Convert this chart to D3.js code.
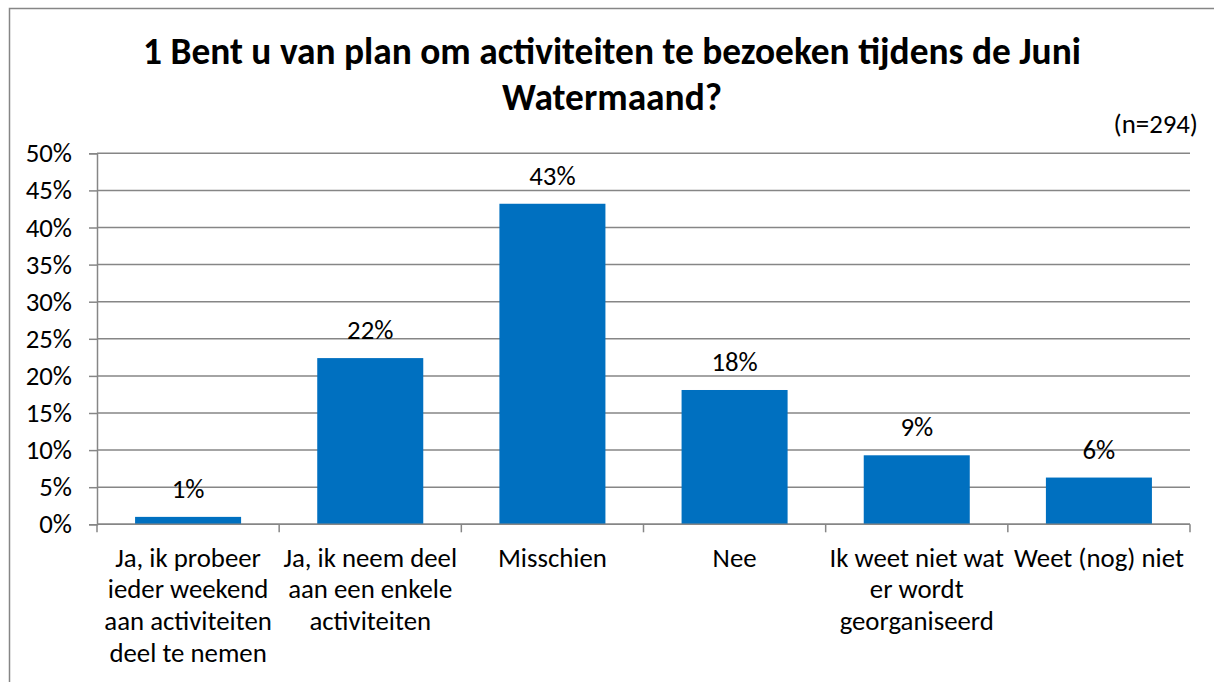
<!DOCTYPE html>
<html>
<head>
<meta charset="utf-8">
<script src="https://cdn.jsdelivr.net/npm/d3@7"></script>
<style>
    body { margin: 0; background: #fff; }
    svg { display: block; font-family: Carlito, Calibri, Lato, sans-serif; }
</style>
</head>
<body>
<div id="chart"></div>
<script>
const categories = [
    "Ja, ik probeer ieder weekend aan activiteiten deel te nemen",
    "Ja, ik neem deel aan een enkele activiteiten",
    "Misschien",
    "Nee",
    "Ik weet niet wat er wordt georganiseerd",
    "Weet (nog) niet"
];
const categoryLines = [
    ["Ja, ik probeer", "ieder weekend", "aan activiteiten", "deel te nemen"],
    ["Ja, ik neem deel", "aan een enkele", "activiteiten"],
    ["Misschien"],
    ["Nee"],
    ["Ik weet niet wat", "er wordt", "georganiseerd"],
    ["Weet (nog) niet"]
];
const values = [1.0, 22.4, 43.2, 18.1, 9.3, 6.3];
const yTicks = [0, 5, 10, 15, 20, 25, 30, 35, 40, 45, 50];
const titleLines = ["1 Bent u van plan om activiteiten te bezoeken tijdens de Juni", "Watermaand?"];
const note = "(n=294)";

function createVis() {
    const W = 1214, H = 682;
    const plot = { left: 97, right: 1190, top: 153.3, bottom: 524.3 };
    const gridColor = "#868686";
    const labelSize = "26.8px";

    const svg = d3.select("#chart")
        .append("svg")
        .attr("width", W)
        .attr("height", H);

    svg.append("rect").attr("width", W).attr("height", H).attr("fill", "#fff");

    // chart border (only top and left show in the crop)
    svg.append("path")
        .attr("d", `M9.5,${H} V8.5 H${W}`)
        .attr("fill", "none")
        .attr("stroke", gridColor)
        .attr("stroke-width", 1.5);

    const x = d3.scaleBand()
        .domain(categories)
        .range([plot.left, plot.right])
        .paddingInner(0.418)
        .paddingOuter(0.209);

    const y = d3.scaleLinear()
        .domain([0, 50])
        .range([plot.bottom, plot.top]);

    // gridlines
    svg.append("g")
        .selectAll("line")
        .data(yTicks)
        .join("line")
        .attr("x1", plot.left)
        .attr("x2", plot.right)
        .attr("y1", d => y(d))
        .attr("y2", d => y(d))
        .attr("stroke", gridColor)
        .attr("stroke-width", 1.5);

    // y axis
    const yAxis = svg.append("g")
        .attr("transform", `translate(${plot.left},0)`)
        .call(d3.axisLeft(y).tickValues(yTicks).tickFormat(d => d + "%").tickSize(8).tickPadding(17));
    yAxis.select(".domain").attr("stroke", gridColor).attr("stroke-width", 1.5);
    yAxis.selectAll(".tick line").attr("stroke", gridColor).attr("stroke-width", 1.5);
    yAxis.selectAll(".tick text")
        .attr("fill", "#000")
        .style("font-family", "Carlito, Calibri, Lato, sans-serif")
        .style("font-size", labelSize);

    // bars
    svg.append("g")
        .selectAll("rect")
        .data(values)
        .join("rect")
        .attr("x", (d, i) => x(categories[i]))
        .attr("y", d => y(d))
        .attr("width", x.bandwidth())
        .attr("height", d => y(0) - y(d))
        .attr("fill", "#0070C0");

    // value labels
    svg.append("g")
        .selectAll("text")
        .data(values)
        .join("text")
        .attr("x", (d, i) => x(categories[i]) + x.bandwidth() / 2)
        .attr("y", d => y(d) - 19)
        .attr("text-anchor", "middle")
        .style("font-size", labelSize)
        .text(d => Math.round(d) + "%");

    // x axis line and ticks between categories
    svg.append("line")
        .attr("x1", plot.left)
        .attr("x2", plot.right)
        .attr("y1", y(0))
        .attr("y2", y(0))
        .attr("stroke", gridColor)
        .attr("stroke-width", 1.5);

    const step = x.step();
    svg.append("g")
        .selectAll("line")
        .data(d3.range(categories.length + 1))
        .join("line")
        .attr("x1", i => plot.left + i * step)
        .attr("x2", i => plot.left + i * step)
        .attr("y1", y(0))
        .attr("y2", y(0) + 8)
        .attr("stroke", gridColor)
        .attr("stroke-width", 1.5);

    // category labels
    const labels = svg.append("g")
        .selectAll("text")
        .data(categories)
        .join("text")
        .attr("text-anchor", "middle")
        .style("font-size", labelSize)
        .attr("transform", d => `translate(${x(d) + x.bandwidth() / 2},566.7)`);

    labels.selectAll("tspan")
        .data((d, i) => categoryLines[i])
        .join("tspan")
        .attr("x", 0)
        .attr("y", (d, i) => i * 31.7)
        .text(d => d);

    // title
    svg.append("text")
        .attr("text-anchor", "middle")
        .style("font-size", "37.4px")
        .style("font-weight", "bold")
        .selectAll("tspan")
        .data(titleLines)
        .join("tspan")
        .attr("x", 612)
        .attr("y", (d, i) => 64 + i * 46)
        .text(d => d);

    // sample size note
    svg.append("text")
        .attr("x", 1198)
        .attr("y", 133)
        .attr("text-anchor", "end")
        .style("font-size", labelSize)
        .text(note);
}

document.addEventListener("DOMContentLoaded", createVis);
</script>
</body>
</html>
